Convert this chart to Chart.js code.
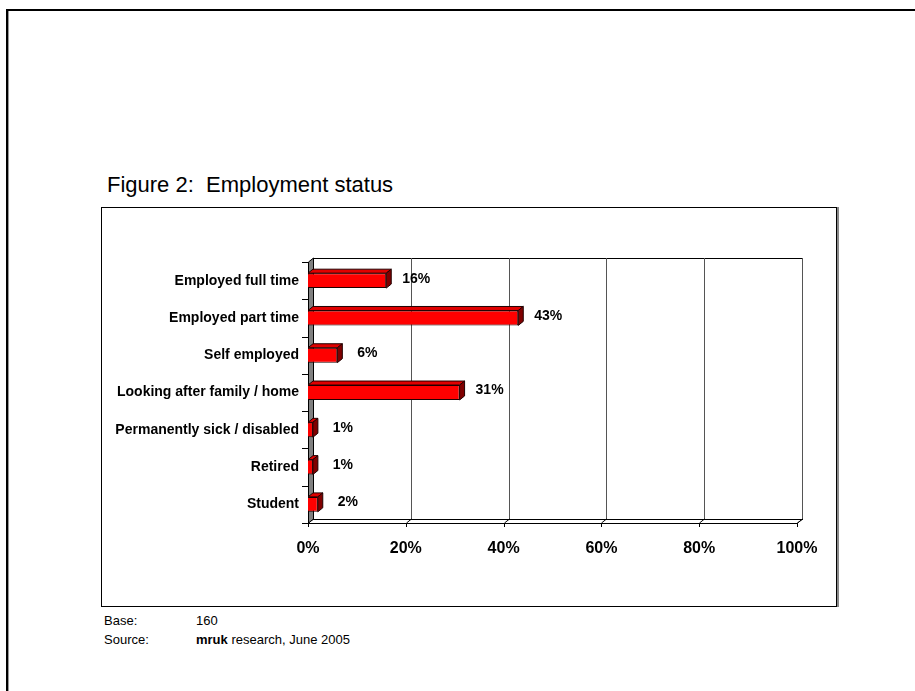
<!DOCTYPE html>
<html>
<head>
<meta charset="utf-8">
<script src="https://cdn.jsdelivr.net/npm/chart.js@4.4.1/dist/chart.umd.min.js"></script>
<style>
    html, body { margin: 0; padding: 0; background: #fff; width: 915px; height: 691px; overflow: hidden; }
    body { position: relative; font-family: "Liberation Sans", Arial, sans-serif; color: #000; }
    #page { position: absolute; left: 6px; top: 9px; width: 960px; height: 720px;
            border-top: 2px solid #000; border-left: 2px solid #000; box-shadow: inset 1px 0 0 #999; }
    #title { position: absolute; left: 107px; top: 172px; font-size: 22px; white-space: pre; }
    #box { position: absolute; left: 101px; top: 207px; width: 734px; height: 398px;
           border: 1px solid #000; box-shadow: 2px 0 0 #888; }
    #box canvas { position: absolute; left: 0; top: 0; }
    .foot { position: absolute; font-size: 13px; white-space: pre; }
</style>
</head>
<body>
<div id="page"></div>
<div id="title">Figure 2:  Employment status</div>
<div id="box"><canvas id="employmentChart" width="734" height="398"></canvas></div>
<div class="foot" style="left:104px; top:613px;">Base:</div>
<div class="foot" style="left:196px; top:613px;">160</div>
<div class="foot" style="left:104px; top:632px;">Source:</div>
<div class="foot" style="left:196px; top:632px;"><b>mruk</b> research, June 2005</div>

<script>
    // categories and values (percent)
    const categories = [
        'Employed full time',
        'Employed part time',
        'Self employed',
        'Looking after family / home',
        'Permanently sick / disabled',
        'Retired',
        'Student'
    ];
    const percentValues = [16, 43, 6, 31, 1, 1, 2];
    const axisTicks = [0, 20, 40, 60, 80, 100];

    // depth of the 3D effect
    const DX = 5, DY = -4;

    // draws walls, floor, gridlines and the bars' 3D faces
    const threeD = {
        id: 'threeD',
        beforeDatasetsDraw(chart) {
            const ctx = chart.ctx;
            const a = chart.chartArea;
            const xs = chart.scales.x, ys = chart.scales.y;
            const right = xs.getPixelForValue(axisTicks[axisTicks.length - 1]);
            ctx.save();
            ctx.lineWidth = 1;
            ctx.strokeStyle = '#000';

            // back wall
            ctx.strokeRect(a.left + DX + 0.5, a.top + DY + 0.5, right - a.left, a.bottom - a.top);

            // gridlines on back wall, floor diagonals and ticks
            axisTicks.forEach(function(v) {
                const x = Math.round(xs.getPixelForValue(v)) + 0.5;
                if (v > 0) {
                    ctx.strokeStyle = '#555';
                    ctx.beginPath();
                    ctx.moveTo(x + DX, a.top + DY);
                    ctx.lineTo(x + DX, a.bottom + DY);
                    ctx.stroke();
                }
                ctx.strokeStyle = '#000';
                ctx.beginPath();
                ctx.moveTo(x + DX, a.bottom + DY);
                ctx.lineTo(x, a.bottom);
                ctx.lineTo(x, a.bottom + 4);
                ctx.stroke();
            });

            // floor
            ctx.strokeStyle = '#000';
            ctx.beginPath();
            ctx.moveTo(a.left, a.bottom + 0.5);
            ctx.lineTo(right, a.bottom + 0.5);
            ctx.lineTo(right + DX, a.bottom + DY + 0.5);
            ctx.stroke();

            // left wall
            ctx.fillStyle = '#808080';
            ctx.beginPath();
            ctx.moveTo(a.left + 0.5, a.top);
            ctx.lineTo(a.left + DX + 0.5, a.top + DY);
            ctx.lineTo(a.left + DX + 0.5, a.bottom + DY);
            ctx.lineTo(a.left + 0.5, a.bottom);
            ctx.closePath();
            ctx.fill();
            ctx.stroke();

            // category ticks
            const step = ys.getPixelForValue(1) - ys.getPixelForValue(0);
            for (let i = 0; i <= categories.length; i++) {
                const y = Math.round(ys.getPixelForValue(i) - step / 2) + 0.5;
                ctx.beginPath();
                ctx.moveTo(a.left - 6, y);
                ctx.lineTo(a.left, y);
                ctx.stroke();
            }
            ctx.restore();
        },
        afterDatasetsDraw(chart) {
            const ctx = chart.ctx;
            const meta = chart.getDatasetMeta(0);
            ctx.save();
            ctx.lineWidth = 1;
            ctx.strokeStyle = '#200000';
            meta.data.forEach(function(bar, i) {
                const p = bar.getProps(['x', 'y', 'base', 'height'], true);
                const top = p.y - p.height / 2, bottom = p.y + p.height / 2;
                // top face
                ctx.fillStyle = '#E00000';
                ctx.beginPath();
                ctx.moveTo(p.base, top);
                ctx.lineTo(p.base + DX, top + DY);
                ctx.lineTo(p.x + DX, top + DY);
                ctx.lineTo(p.x, top);
                ctx.closePath();
                ctx.fill();
                ctx.stroke();
                // side face
                ctx.fillStyle = '#800000';
                ctx.beginPath();
                ctx.moveTo(p.x, top);
                ctx.lineTo(p.x + DX, top + DY);
                ctx.lineTo(p.x + DX, bottom + DY);
                ctx.lineTo(p.x, bottom);
                ctx.closePath();
                ctx.fill();
                ctx.stroke();
                // value label
                ctx.fillStyle = '#000';
                ctx.font = 'bold 14px "Liberation Sans", Arial, sans-serif';
                ctx.textAlign = 'center';
                ctx.textBaseline = 'middle';
                ctx.fillText(percentValues[i] + '%', p.x + 30, p.y - 2);
            });
            ctx.restore();
        }
    };

    document.addEventListener('DOMContentLoaded', function() {
        const ctx = document.getElementById('employmentChart').getContext('2d');
        window.empChart = new Chart(ctx, {
            type: 'bar',
            data: {
                labels: categories,
                datasets: [{
                    data: percentValues,
                    backgroundColor: '#FF0000',
                    borderColor: '#200000',
                    borderWidth: 1,
                    barPercentage: 0.4,
                    categoryPercentage: 1,
                    clip: false
                }]
            },
            options: {
                indexAxis: 'y',
                responsive: false,
                animation: false,
                layout: {
                    padding: { top: 54, right: 39, bottom: 0, left: 0 }
                },
                scales: {
                    x: {
                        min: 0,
                        max: 100,
                        afterBuildTicks: function(scale) {
                            scale.ticks = axisTicks.map(v => ({ value: v }));
                        },
                        afterFit: function(scale) { scale.height = 83; },
                        grid: { display: false, drawTicks: false },
                        border: { display: false },
                        ticks: {
                            padding: 16,
                            color: '#000',
                            font: { family: '"Liberation Sans", Arial', size: 16, weight: 'bold' },
                            callback: v => v + '%'
                        }
                    },
                    y: {
                        afterFit: function(scale) { scale.width = 206; },
                        grid: { display: false, drawTicks: false },
                        border: { display: false },
                        ticks: {
                            padding: 9,
                            color: '#000',
                            font: { family: '"Liberation Sans", Arial', size: 14, weight: 'bold' }
                        }
                    }
                },
                plugins: {
                    legend: { display: false },
                    tooltip: { enabled: false }
                }
            },
            plugins: [threeD]
        });
    });
</script>
</body>
</html>
